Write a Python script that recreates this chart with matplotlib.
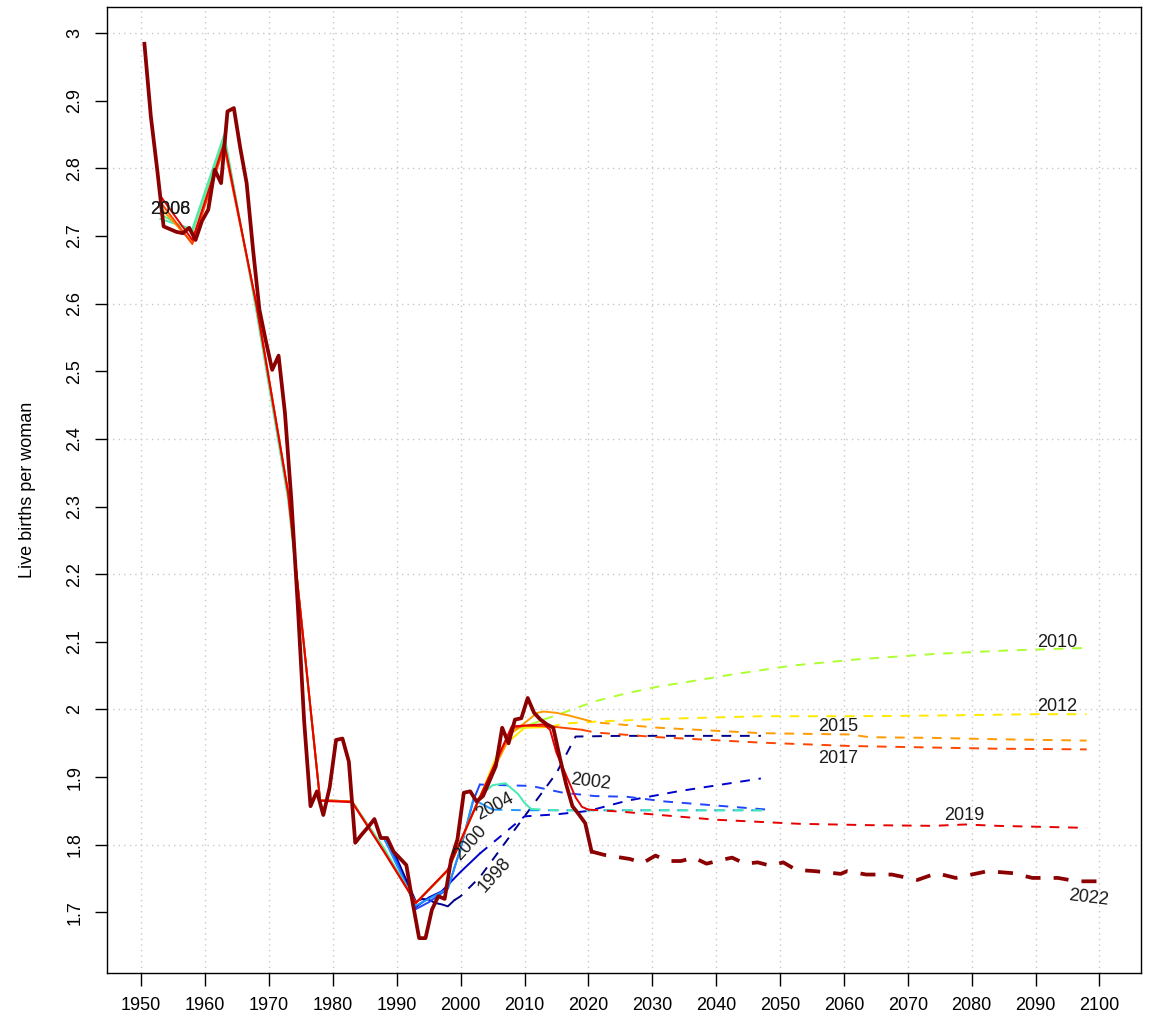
import matplotlib
matplotlib.use("Agg")
import matplotlib.pyplot as plt

plt.rcParams['font.family'] = ['Liberation Sans', 'DejaVu Sans']

# observed fertility (latest vintage), one value per year
obs_years = list(range(1950, 2021))
obs_tfr = [2.984, 2.877, 2.798, 2.714, 2.710, 2.706, 2.704, 2.712, 2.694, 2.722,
           2.739, 2.798, 2.778, 2.884, 2.889, 2.830, 2.778, 2.680, 2.591, 2.545,
           2.502, 2.523, 2.438, 2.310, 2.155, 1.983, 1.857, 1.879, 1.844, 1.885,
           1.955, 1.957, 1.923, 1.803, 1.815, 1.826, 1.838, 1.810, 1.810, 1.790,
           1.780, 1.770, 1.714, 1.662, 1.662, 1.704, 1.724, 1.720, 1.778, 1.808,
           1.877, 1.879, 1.864, 1.872, 1.894, 1.916, 1.973, 1.950, 1.985, 1.987,
           2.017, 1.995, 1.985, 1.978, 1.973, 1.930, 1.890, 1.857, 1.845, 1.832,
           1.790]
# 2022 projection
proj22_years = [2020, 2022, 2024, 2026, 2028, 2030, 2032, 2034, 2036, 2038, 2040,
                2042, 2044, 2046, 2048, 2050, 2052, 2055, 2059, 2060, 2063, 2067,
                2071, 2074, 2077, 2079, 2082, 2086, 2089, 2093, 2096, 2100]
proj22_tfr = [1.790, 1.785, 1.782, 1.779, 1.773, 1.784, 1.776, 1.776, 1.781, 1.772, 1.777,
              1.781, 1.772, 1.774, 1.769, 1.774, 1.763, 1.761, 1.757, 1.761, 1.756, 1.756,
              1.748, 1.758, 1.751, 1.755, 1.761, 1.758, 1.751, 1.751, 1.746, 1.746]

# older vintages: history (solid) and projection (dashed)
v1998_hist_yr = [1988, 1990, 1993, 1994, 1995, 1996, 1997, 1998, 1999]
v1998_hist = [1.810, 1.780, 1.716, 1.720, 1.719, 1.714, 1.712, 1.709, 1.718]
v1998_proj_yr = [1999, 2000, 2003, 2010, 2015, 2018, 2025, 2035, 2047]
v1998_proj = [1.718, 1.724, 1.752, 1.842, 1.906, 1.960, 1.961, 1.961, 1.961]

v2000_hist_yr = [1988, 1990, 1993, 1995, 1997, 2000, 2003]
v2000_hist = [1.810, 1.775, 1.708, 1.722, 1.731, 1.760, 1.787]
v2000_proj_yr = [2003, 2010, 2015, 2020, 2026, 2034, 2047]
v2000_proj = [1.787, 1.842, 1.845, 1.850, 1.865, 1.879, 1.898]

v2002_hist_yr = [1988, 1990, 1993, 1995, 1998, 2000, 2002, 2003]
v2002_hist = [1.810, 1.775, 1.705, 1.715, 1.735, 1.795, 1.866, 1.889]
v2002_proj_yr = [2003, 2011, 2016, 2021, 2026, 2032, 2040, 2048]
v2002_proj = [1.889, 1.887, 1.877, 1.872, 1.871, 1.864, 1.858, 1.852]

v2004_hist_yr = [1988, 1993, 1998, 2000, 2002, 2003, 2005]
v2004_hist = [1.810, 1.710, 1.735, 1.795, 1.868, 1.862, 1.852]
v2004_proj_yr = [2005, 2010, 2020, 2030, 2048]
v2004_proj = [1.852, 1.851, 1.851, 1.851, 1.851]

v2006_hist_yr = [1953, 1958, 1963, 1968, 1973, 1978, 1983, 1988, 1993, 1998, 2003,
                 2005, 2007, 2009, 2010, 2011]
v2006_hist = [2.725, 2.710, 2.850, 2.590, 2.310, 1.866, 1.864, 1.795, 1.714, 1.762, 1.872,
              1.888, 1.891, 1.875, 1.862, 1.853]
v2006_proj_yr = [2011, 2015, 2020, 2030, 2048]
v2006_proj = [1.853, 1.851, 1.851, 1.851, 1.851]

v2008_hist_yr = [1953, 1958, 1963, 1968, 1973, 1978, 1983, 1988, 1993, 1998, 2003, 2008]
v2008_hist = [2.732, 2.705, 2.845, 2.595, 2.315, 1.866, 1.864, 1.793, 1.714, 1.762, 1.870, 1.972]
v2008_proj_yr = []
v2008_proj = []

v2010_hist_yr = [2003, 2008, 2013]
v2010_hist = [1.870, 1.968, 1.985]
v2010_proj_yr = [2013, 2016, 2021, 2026, 2031, 2037, 2042, 2047, 2052, 2062, 2074, 2085, 2098]
v2010_proj = [1.985, 1.995, 2.012, 2.024, 2.034, 2.043, 2.051, 2.058, 2.065, 2.074, 2.082,
              2.087, 2.091]

v2012_hist_yr = [1998, 2003, 2006, 2010, 2014]
v2012_hist = [1.762, 1.870, 1.940, 1.973, 1.974]
v2012_proj_yr = [2014, 2016, 2021, 2031, 2047, 2061, 2074, 2090, 2098]
v2012_proj = [1.974, 1.979, 1.982, 1.986, 1.990, 1.990, 1.991, 1.993, 1.993]

v2015_hist_yr = [1953, 1958, 1963, 1968, 1973, 1978, 1983, 1988, 1993, 1998, 2003, 2008,
                 2010, 2012, 2013, 2015, 2017, 2019]
v2015_hist = [2.742, 2.690, 2.835, 2.600, 2.320, 1.866, 1.864, 1.790, 1.714, 1.762, 1.870,
              1.965, 1.980, 1.995, 1.997, 1.995, 1.991, 1.986]
v2015_proj_yr = [2019, 2021, 2031, 2047, 2061, 2064, 2074, 2084, 2098]
v2015_proj = [1.986, 1.981, 1.973, 1.965, 1.963, 1.959, 1.958, 1.956, 1.954]

v2017_hist_yr = [1953, 1958, 1963, 1968, 1973, 1978, 1983, 1988, 1993, 1998, 2003, 2008,
                 2010, 2014, 2017, 2019]
v2017_hist = [2.750, 2.688, 2.832, 2.600, 2.320, 1.866, 1.864, 1.790, 1.714, 1.763, 1.870,
              1.972, 1.976, 1.975, 1.972, 1.970]
v2017_proj_yr = [2019, 2021, 2031, 2047, 2061, 2084, 2098]
v2017_proj = [1.970, 1.966, 1.959, 1.951, 1.946, 1.942, 1.941]

v2019_hist_yr = [1953, 1958, 1963, 1968, 1973, 1978, 1983, 1988, 1993, 1998, 2003, 2008,
                 2013, 2014, 2015, 2016, 2017, 2018, 2019, 2020]
v2019_hist = [2.759, 2.694, 2.838, 2.600, 2.320, 1.865, 1.863, 1.790, 1.714, 1.763, 1.870,
              1.975, 1.978, 1.970, 1.936, 1.914, 1.892, 1.870, 1.856, 1.852]
v2019_proj_yr = [2020, 2025, 2030, 2040, 2053, 2064, 2074, 2079, 2084, 2098]
v2019_proj = [1.852, 1.849, 1.845, 1.837, 1.831, 1.829, 1.828, 1.830, 1.828, 1.825]

vintages = [
    (v1998_hist_yr, v1998_hist, v1998_proj_yr, v1998_proj, '#00008B'),
    (v2000_hist_yr, v2000_hist, v2000_proj_yr, v2000_proj, '#0000CD'),
    (v2002_hist_yr, v2002_hist, v2002_proj_yr, v2002_proj, '#2046FF'),
    (v2004_hist_yr, v2004_hist, v2004_proj_yr, v2004_proj, '#1E96FF'),
    (v2006_hist_yr, v2006_hist, v2006_proj_yr, v2006_proj, '#46E8B4'),
    (v2008_hist_yr, v2008_hist, v2008_proj_yr, v2008_proj, '#5AF08C'),
    (v2010_hist_yr, v2010_hist, v2010_proj_yr, v2010_proj, '#ADFF2F'),
    (v2012_hist_yr, v2012_hist, v2012_proj_yr, v2012_proj, '#FFE800'),
    (v2015_hist_yr, v2015_hist, v2015_proj_yr, v2015_proj, '#FF9A00'),
    (v2017_hist_yr, v2017_hist, v2017_proj_yr, v2017_proj, '#FF4500'),
    (v2019_hist_yr, v2019_hist, v2019_proj_yr, v2019_proj, '#E60000'),
]

# label text, x, y, rotation
labels = [
    ('1998', 2005.4, 1.756, 48), ('2000', 2001.5, 1.803, 48),
    ('2002', 2020.3, 1.893, -7), ('2004', 2005.4, 1.857, 28),
    ('2006', 1954.5, 2.739, 0), ('2008', 1954.5, 2.739, 0),
    ('2010', 2093.4, 2.099, 0), ('2012', 2093.4, 2.005, 0),
    ('2015', 2059.1, 1.975, 0), ('2017', 2059.1, 1.927, 0),
    ('2019', 2078.8, 1.844, 0), ('2022', 2098.3, 1.721, -7),
]

fig = plt.figure(figsize=(11.49, 10.21), dpi=100)
ax = fig.add_axes([0.0929, 0.0467, 0.9001, 0.9462])

# dotted grid like R's grid()
for gx in range(1950, 2101, 10):
    ax.axvline(gx, color='#c8c8c8', lw=1, ls=(0, (1, 3)), zorder=0)
for gy in [1.8, 2.0, 2.2, 2.4, 2.6, 2.8, 3.0]:
    ax.axhline(gy, color='#c8c8c8', lw=1, ls=(0, (1, 3)), zorder=0)

for hx, hy, px, py, col in vintages:
    ax.plot(hx, hy, color=col, lw=1.4, solid_joinstyle='round')
    if px:
        ax.plot(px, py, color=col, lw=1.4, dashes=(5, 4.5))

# latest vintage, points at mid-year
ax.plot([y + 0.5 for y in obs_years], obs_tfr, color='#8B0000', lw=2.7,
        solid_joinstyle='round')
ax.plot([y + 0.5 for y in proj22_years], proj22_tfr, color='#8B0000', lw=2.7,
        dashes=(4, 3.5))

for txt, lx, ly, rot in labels:
    ax.text(lx, ly, txt, fontsize=13, color='#1a1a1a', rotation=rot,
            ha='center', va='center', rotation_mode='anchor')

ax.set_xlim(1944.6, 2106.5)
ax.set_ylim(1.610, 3.038)
ax.set_xticks(range(1950, 2101, 10))
yt = [1.7, 1.8, 1.9, 2.0, 2.1, 2.2, 2.3, 2.4, 2.5, 2.6, 2.7, 2.8, 2.9, 3.0]
ax.set_yticks(yt)
ax.set_yticklabels(['%g' % v for v in yt], rotation=90, va='center')
ax.tick_params(labelsize=13, length=9, width=1, pad=8, colors='black')
for s in ax.spines.values():
    s.set_linewidth(1)

fig.text(28 / 1149, 1 - 490 / 1021, 'Live births per woman', rotation=90,
         ha='center', va='center', fontsize=13)

fig.savefig('out.png', dpi=100)
